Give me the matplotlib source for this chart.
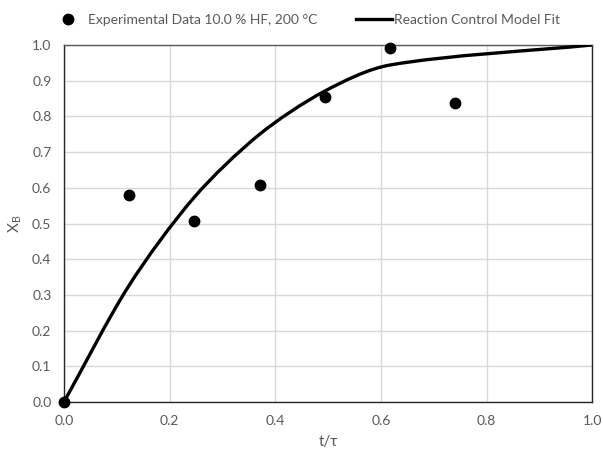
import numpy as np
import matplotlib
matplotlib.use("Agg")
import matplotlib.pyplot as plt
from matplotlib.path import Path
from matplotlib.patches import PathPatch
from matplotlib.lines import Line2D

plt.rcParams['font.family'] = ['Lato', 'DejaVu Sans']

# experimental points
t_exp = [0.0, 0.1235, 0.247, 0.3705, 0.494, 0.6175, 0.741]
xb_exp = [0.0, 0.580, 0.508, 0.607, 0.854, 0.991, 0.838]

# model fit evaluated at the sample times, plus the end point
t_fit = [0.0, 0.1235, 0.247, 0.3705, 0.494, 0.6175, 1.0]
xb_fit = [0.0, 0.327, 0.574, 0.750, 0.871, 0.944, 1.0]

x_ticks = [0.0, 0.2, 0.4, 0.6, 0.8, 1.0]
y_ticks = [i / 10 for i in range(11)]

grey = '#595959'


def smooth_path(xs, ys, k=0.3):
    # bezier segments through the points; tangent length follows segment length
    p = np.column_stack([xs, ys])
    n = len(p)
    tang = []
    for i in range(n):
        a = p[i - 1] if i > 0 else p[i]
        b = p[i + 1] if i + 1 < n else p[i]
        d = b - a
        tang.append(d / np.hypot(*d))
    verts = [p[0]]
    codes = [Path.MOVETO]
    for i in range(n - 1):
        seg = np.hypot(*(p[i + 1] - p[i]))
        c1 = p[i] + tang[i] * seg * k
        c2 = p[i + 1] - tang[i + 1] * seg * k
        verts += [c1, c2, p[i + 1]]
        codes += [Path.CURVE4] * 3
    return Path(verts, codes)


fig = plt.figure(figsize=(6.03, 4.59), dpi=100)
ax = fig.add_axes([0.106, 0.124, 0.876, 0.778])

ax.add_patch(PathPatch(smooth_path(t_fit, xb_fit), fill=False, edgecolor='black',
                       lw=2.4, capstyle='round', joinstyle='round', zorder=3))
ax.plot(t_exp, xb_exp, 'o', color='black', ms=7.5, zorder=4, clip_on=False)

ax.set_xlim(0, 1)
ax.set_ylim(0, 1)
ax.set_xticks(x_ticks)
ax.set_yticks(y_ticks)
ax.set_xticklabels([f'{v:.1f}' for v in x_ticks])
ax.set_yticklabels([f'{v:.1f}' for v in y_ticks])
ax.tick_params(length=0, pad=9, labelsize=10, labelcolor=grey)
ax.grid(True, color='#d9d9d9', lw=1)
ax.set_axisbelow(True)
for s in ax.spines.values():
    s.set_color('#262626')
    s.set_linewidth(1)
ax.spines['top'].set_color('#595959')

ax.set_xlabel('t/τ', fontsize=11, color=grey, labelpad=6)
ax.set_ylabel('X$_\\mathregular{B}$', fontsize=11, color=grey, labelpad=6)

handles = [
    Line2D([], [], ls='none', marker='o', color='black', ms=7.5),
    Line2D([], [], color='black', lw=2.4),
]
labels = ['Experimental Data 10.0 % HF, 200 °C', 'Reaction Control Model Fit']
fig.legend(handles, labels, loc='center', bbox_to_anchor=(0.506, 0.956), ncol=2,
           frameon=False, fontsize=10, labelcolor=grey, handlelength=2.6,
           handletextpad=0.15, columnspacing=2.8)

fig.savefig('out.png', dpi=100)
